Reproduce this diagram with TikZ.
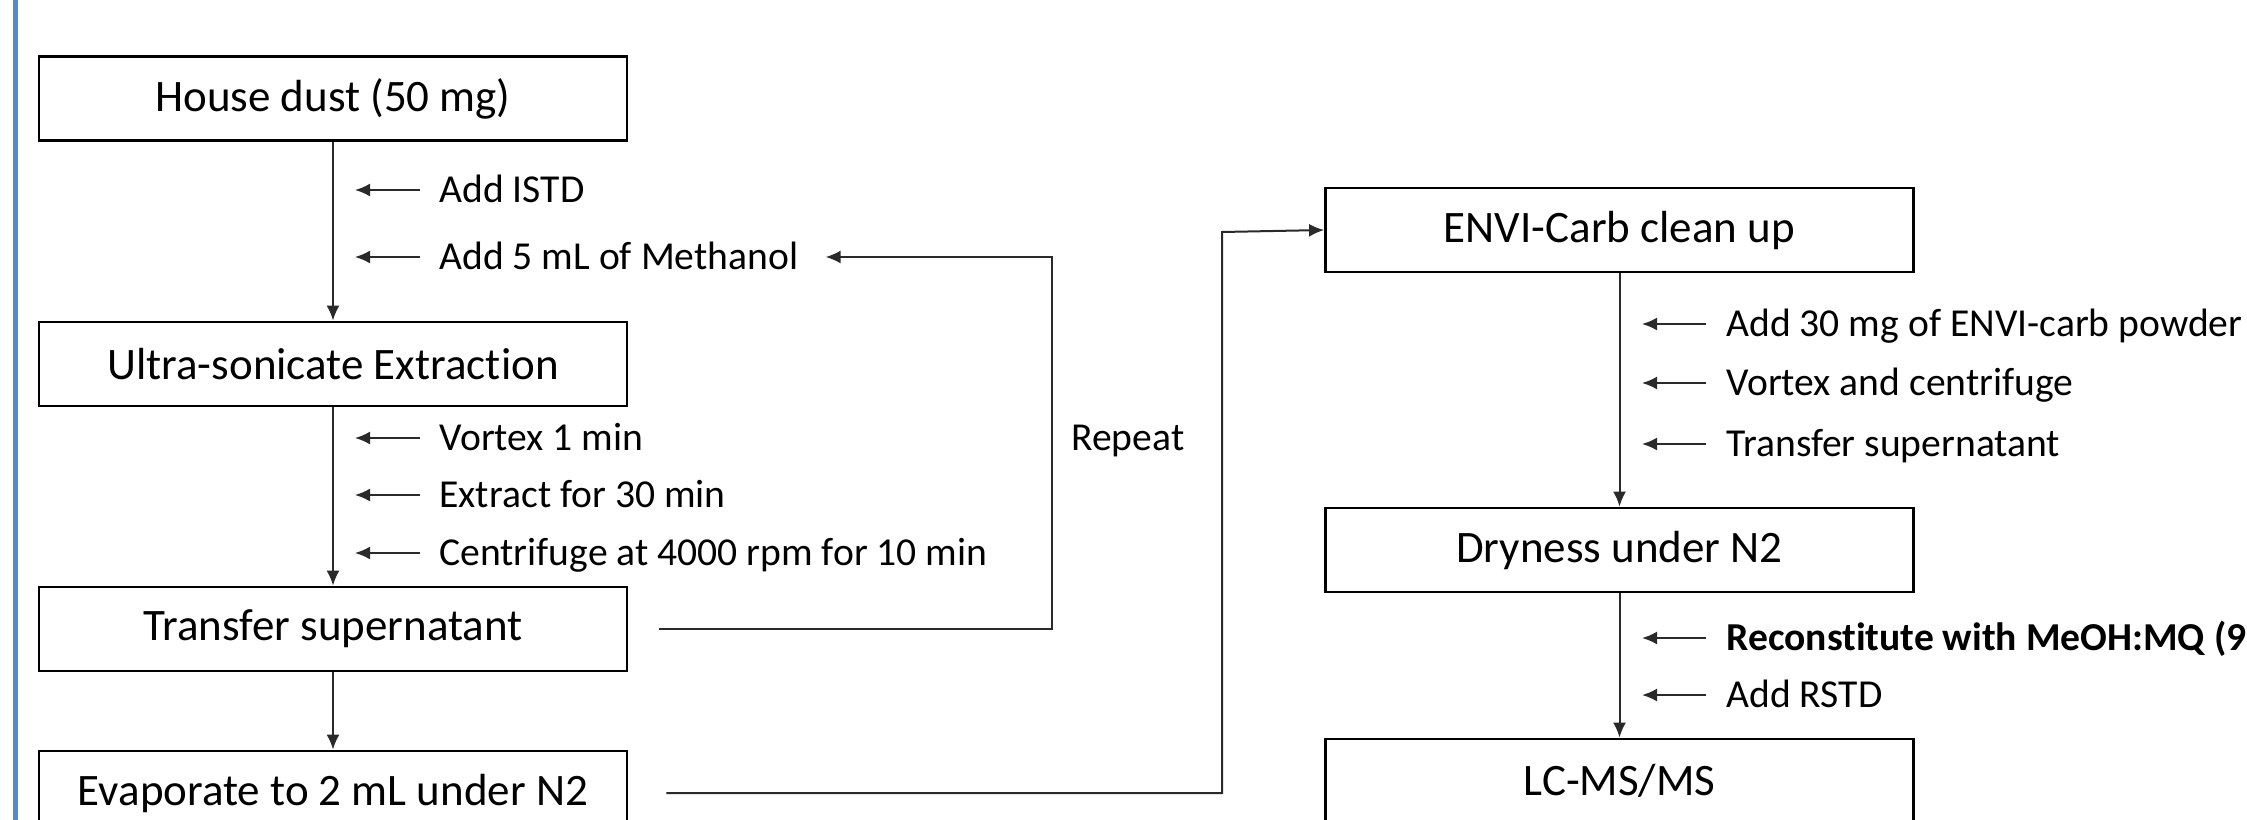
\documentclass[tikz,border=0pt]{standalone}
\usepackage{fontspec}
\setmainfont{Carlito}[Ligatures={NoCommon}]
\usetikzlibrary{arrows.meta}
\definecolor{sideblue}{HTML}{5A8AC6}
\definecolor{connc}{HTML}{2A2A2A}
\tikzset{
  stepbox/.style={draw=black, line width=1.4pt, fill=white, minimum width=294pt, minimum height=42pt, inner sep=0pt, font=\fontsize{22.5pt}{26pt}\selectfont},
  lbl/.style={inner sep=0pt, font=\fontsize{19.8pt}{23pt}\selectfont},
  conn/.style={draw=connc, line width=1pt},
  tip/.style={-{Latex[length=7.5pt,width=6.5pt]}},
}
\begin{document}
\begin{tikzpicture}[x=0.5pt,y=-0.5pt]
\useasboundingbox (0,0) rectangle (2247,819);
\clip (0,0) rectangle (2247,819);
\fill[white] (0,0) rectangle (2247,819);
\draw[sideblue, line width=2.5pt] (15.5,-5) -- (15.5,830);

% left column
\node[stepbox] (b1) at (333,98.5) {House dust (50 mg)};
\node[stepbox] (b2) at (333,364) {Ultra-sonicate Extraction};
\node[stepbox] (b3) at (333,629) {Transfer supernatant};
\node[stepbox] (b4) at (333,793) {Evaporate to 2 mL under N2};

\draw[conn,tip] (b1) -- (b2);
\draw[conn,tip] (b2) -- (b3);
\draw[conn,tip] (b3) -- (b4);

\node[lbl, anchor=base west] (l1) at (439,202.5) {Add ISTD};
\node[lbl, anchor=base west] (l2) at (439,269.5) {Add 5 mL of Methanol};
\node[lbl, anchor=base west] (l3) at (439,450.5) {Vortex 1 min};
\node[lbl, anchor=base west] (l4) at (439,507.5) {Extract for 30 min};
\node[lbl, anchor=base west] (l5) at (439,565.5) {Centrifuge at 4000 rpm for 10 min};
\foreach \n in {l1,l2,l3,l4,l5}{
  \draw[conn,tip] ([shift={(-19,-12.5)}]\n.base west) -- ([shift={(-84,-12.5)}]\n.base west);
}

% repeat loop
\node[lbl, anchor=base west] (rep) at (1071,450.5) {Repeat};
\draw[conn,tip] ([xshift=15.5pt]b3.east) -| (1052,257) -- ([shift={(27,-12.5)}]l2.base east);

% right column
\node[stepbox] (r1) at (1619.5,230) {ENVI-Carb clean up};
\node[stepbox] (r2) at (1619.5,550) {Dryness under N2};
\node[stepbox] (r3) at (1619.5,781) {LC-MS/MS};

\draw[conn,tip] (r1) -- (r2);
\draw[conn,tip] (r2) -- (r3);

\draw[conn,tip] ([xshift=19pt]b4.east) -| (1222,232) -- (r1.west);

\node[lbl, anchor=base west] (m1) at (1726,336.5) {Add 30 mg of ENVI-carb powder};
\node[lbl, anchor=base west] (m2) at (1726,395.5) {Vortex and centrifuge};
\node[lbl, anchor=base west] (m3) at (1726,456.5) {Transfer supernatant};
\node[lbl, anchor=base west, font=\fontsize{19.8pt}{23pt}\selectfont\bfseries] (m4) at (1726,650.5) {Reconstitute with MeOH:MQ (9};
\node[lbl, anchor=base west] (m5) at (1726,707.5) {Add RSTD};
\foreach \n in {m1,m2,m3,m4,m5}{
  \draw[conn,tip] ([shift={(-20,-12.5)}]\n.base west) -- ([shift={(-84,-12.5)}]\n.base west);
}
\end{tikzpicture}
\end{document}
